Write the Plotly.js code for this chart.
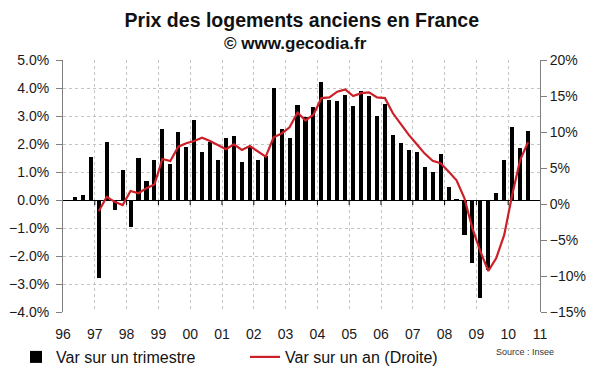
<!DOCTYPE html>
<html><head><meta charset="utf-8">
<script src="https://cdn.plot.ly/plotly-3.0.1.min.js"></script>
<style>html,body{margin:0;padding:0;background:#fff}#chart{width:600px;height:372px}</style>
</head><body><div id="chart"></div>
<script>
// Quarterly change in % (left axis), 1996 Q1 .. 2010 Q3
const quarterStart = 1996;
const quarterlyChange = [
  -0.05, 0.10, 0.18, 1.55,
  -2.77, 2.06, -0.36, 1.07,
  -0.95, 1.49, 0.68, 1.42,
   2.54, 1.29, 2.42, 1.89,
   2.85, 1.70, 2.08, 1.42,
   2.22, 2.30, 1.37, 1.90,
   1.43, 1.57, 3.99, 2.54,
   2.20, 3.39, 2.98, 3.31,
   4.23, 3.57, 3.54, 3.74,
   3.36, 3.89, 3.73, 3.00,
   3.42, 2.32, 2.02, 1.77,
   1.73, 1.19, 1.01, 1.64,
   0.45, 0.05, -1.25, -2.26,
  -3.49, -2.50, 0.24, 1.42,
   2.62, 1.87, 2.46
];
// Annual change in % (right axis), 1997 Q1 .. 2010 Q3
const annualStart = 1997;
const annualChange = [
  -1.0, 1.0, 0.3, -0.15,
   1.8, 1.5, 2.2, 2.7,
   6.25, 5.97, 7.96, 8.43,
   8.75, 9.2, 8.75, 8.2,
   7.6, 8.3, 7.5, 8.05,
   7.26, 6.57, 9.26, 9.8,
  10.65, 12.7, 11.6, 12.4,
  14.7, 14.8, 15.6, 15.9,
  15.0, 15.4, 15.5, 14.8,
  14.7, 12.6, 11.1, 9.6,
   8.3, 7.0, 6.0, 5.65,
   4.5, 3.3, 0.8, -3.4,
  -6.6, -9.3, -7.5, -4.3,
   1.25, 6.1, 8.6
];
const tickYears = [1996,1997,1998,1999,2000,2001,2002,2003,2004,2005,2006,2007,2008,2009,2010,2011];
const tickLabels = ['96','97','98','99','00','01','02','03','04','05','06','07','08','09','10','11'];

function quarterX(start, i){ return start + Math.floor(i/4) + ((i % 4) + 0.5) / 4; }
const qX = quarterlyChange.map((_, i) => quarterX(quarterStart, i));
const aX = annualChange.map((_, i) => quarterX(annualStart, i));

const FONT = 'Liberation Sans, Arial, sans-serif';

const traces = [
  {type:'bar', name:'Var sur un trimestre', x:qX, y:quarterlyChange, width:0.13,
   marker:{color:'#000000', line:{width:0}}, yaxis:'y', hoverinfo:'skip'},
  {type:'scatter', mode:'lines', name:'Var sur un an (Droite)', x:aX, y:annualChange,
   line:{color:'#cc1f27', width:2.2}, yaxis:'y2', hoverinfo:'skip'}
];

const tickShapes = tickYears.slice(1, -1).map(yr => ({
  type:'line', xref:'x', yref:'y', ysizemode:'pixel', yanchor:0,
  x0:yr, x1:yr, y0:0, y1:-5, line:{color:'#000', width:1}
}));

const layout = {
  width:600, height:372,
  margin:{l:63, r:60, t:60, b:60},
  paper_bgcolor:'#fff', plot_bgcolor:'#fff',
  font:{family:FONT, color:'#1a1a1a', size:14},
  title:{text:'<b>Prix des logements anciens en France</b>', font:{family:FONT, size:19.5, color:'#111'},
         xref:'container', x:0.503, xanchor:'center', yref:'container', y:1-20/372, yanchor:'middle'},
  showlegend:true,
  legend:{orientation:'h', xref:'container', yref:'container', x:16/600, xanchor:'left',
          y:1-357/372, yanchor:'middle', font:{family:FONT, size:16, color:'#111'},
          entrywidth:184, bgcolor:'rgba(0,0,0,0)'},
  bargap:0,
  xaxis:{range:[1996, 2011], tickvals:tickYears, ticktext:tickLabels, showgrid:true,
         gridcolor:'#c4c4c4', griddash:'dot', gridwidth:1, showline:false, zeroline:false,
         ticks:'', tickfont:{size:14, family:FONT}, ticklabelstandoff:12, fixedrange:true},
  yaxis:{range:[-4, 5], dtick:1, tick0:0, tickformat:'.1f', ticksuffix:'%', showgrid:true,
         gridcolor:'#c4c4c4', griddash:'dot', gridwidth:1, zeroline:true, zerolinecolor:'#000',
         zerolinewidth:1, showline:true, linecolor:'#808080', linewidth:1, ticks:'outside',
         ticklen:6, tickcolor:'#808080', tickfont:{size:14, family:FONT}, ticklabelstandoff:4},
  yaxis2:{range:[-15, 20], dtick:5, tick0:0, ticksuffix:'%', overlaying:'y', side:'right',
          showgrid:false, zeroline:false, showline:true, linecolor:'#808080', linewidth:1,
          ticks:'outside', ticklen:6, tickcolor:'#808080', tickfont:{size:14, family:FONT}},
  shapes:tickShapes,
  annotations:[
    {text:'<b>© www.gecodia.fr</b>', xref:'paper', yref:'paper', x:(295-63)/477, y:(312-43)/252,
     xanchor:'center', yanchor:'middle', showarrow:false, font:{family:FONT, size:17, color:'#111'}},
    {text:'Source : Insee', xref:'paper', yref:'paper', x:(556-63)/477, y:(312-352)/252,
     xanchor:'right', yanchor:'middle', showarrow:false, font:{family:FONT, size:9, color:'#333'}}
  ]
};

Plotly.newPlot('chart', traces, layout, {staticPlot:true, displayModeBar:false});
</script>
</body></html>
